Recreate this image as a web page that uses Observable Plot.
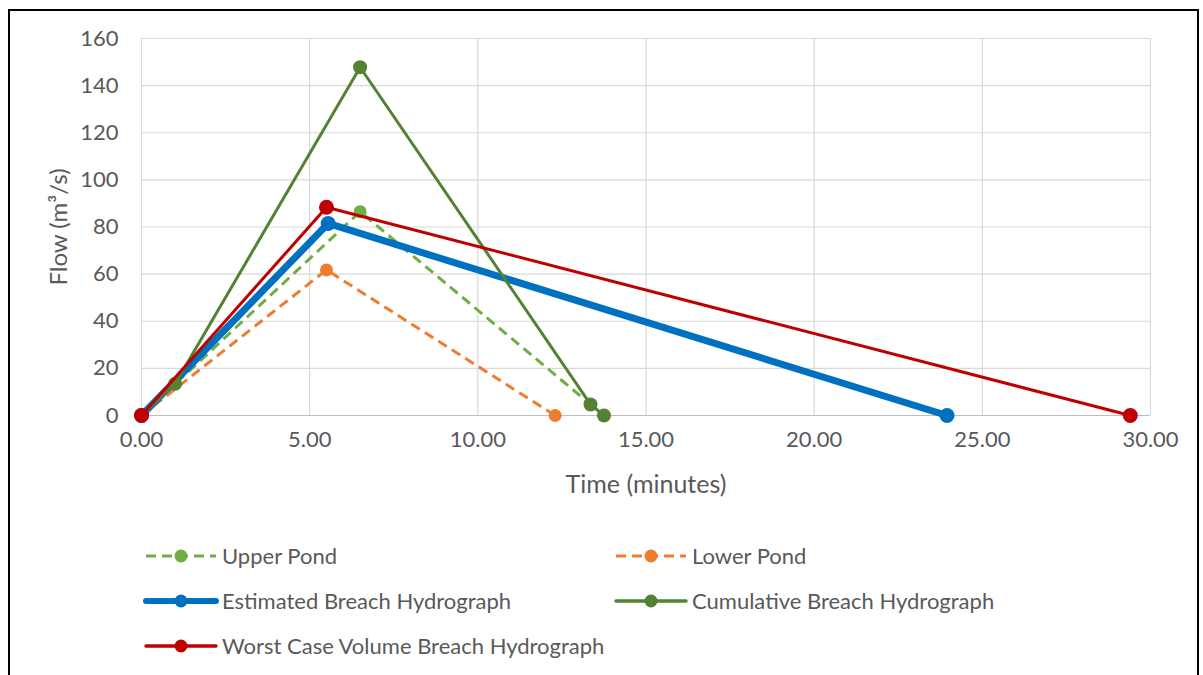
<!DOCTYPE html>
<html><head><meta charset="utf-8">
<script src="https://cdn.jsdelivr.net/npm/d3@7"></script>
<script src="https://cdn.jsdelivr.net/npm/@observablehq/plot@0.6"></script>
<style>
body{margin:0;background:#fff;font-family:Lato,"Open Sans",sans-serif;}
#wrap{position:relative;width:1203px;height:675px;overflow:hidden;}
#frame{position:absolute;left:8px;top:9px;width:1191px;height:700px;border:2.5px solid #000;box-sizing:border-box;}
#chart{position:absolute;left:0;top:0;}
#legend{position:absolute;left:143px;top:533px;display:grid;grid-template-columns:470px 500px;grid-auto-rows:45px;color:#595959;font-size:22px;}
.item{display:flex;align-items:center;}
.item svg{margin-right:3px;}
g[aria-label="x-axis label"] text{font-size:25px;}
g[aria-label="y-axis label"] text{font-size:24px;}
</style></head>
<body>
<div id="wrap"><div id="frame"></div><div id="chart"></div><div id="legend"></div></div>
<script>
// Data
const xTicks = [0, 5, 10, 15, 20, 25, 30];
const yTicks = [0, 20, 40, 60, 80, 100, 120, 140, 160];
const seriesNames = ["Upper Pond", "Lower Pond", "Estimated Breach Hydrograph", "Cumulative Breach Hydrograph", "Worst Case Volume Breach Hydrograph"];
const upperT = [0, 6.5, 13.35];
const upperQ = [0, 86.5, 4.7];
const lowerT = [0, 5.5, 12.3];
const lowerQ = [0, 61.8, 0];
const estimatedT = [0, 5.55, 23.95];
const estimatedQ = [0, 81.5, 0];
const cumulativeT = [0, 1.0, 6.5, 13.35, 13.75];
const cumulativeQ = [0, 13.5, 147.8, 4.7, 0];
const worstT = [0, 5.5, 29.4];
const worstQ = [0, 88.4, 0];

const seriesData = [[upperT, upperQ], [lowerT, lowerQ], [estimatedT, estimatedQ], [cumulativeT, cumulativeQ], [worstT, worstQ]];
// Styles (separate)
const styles = [
  {color: "#70ad47", width: 3, dash: "10,6", r: 6.5, lw: 3},
  {color: "#ed7d31", width: 3, dash: "10,6", r: 6.5, lw: 3},
  {color: "#0070c0", width: 7, dash: null, r: 7.5, lw: 6},
  {color: "#548235", width: 3, dash: null, r: 7, lw: 3.5},
  {color: "#c00000", width: 3, dash: null, r: 7.5, lw: 3.5}
];

const marks = [
  Plot.gridX(xTicks, {stroke: "#d9d9d9", strokeOpacity: 1, strokeWidth: 1.2}),
  Plot.gridY(yTicks, {stroke: "#d9d9d9", strokeOpacity: 1, strokeWidth: 1.2}),
  Plot.ruleY([0], {stroke: "#bfbfbf", strokeWidth: 1.2}),
  Plot.axisX(xTicks, {tickSize: 0, tickPadding: 16, tickFormat: d => d.toFixed(2), label: "Time (minutes)", labelAnchor: "center", labelArrow: "none", labelOffset: 77, fontSize: 22}),
  Plot.axisY(yTicks, {tickSize: 0, tickPadding: 23, label: "Flow (m³/s)", labelAnchor: "center", labelArrow: "none", labelOffset: 92, fontSize: 22})
];
seriesData.forEach(([t, q], i) => {
  const rows = t.map((x, j) => ({x, y: q[j]}));
  const s = styles[i];
  marks.push(Plot.line(rows, {x: "x", y: "y", stroke: s.color, strokeWidth: s.width, strokeDasharray: s.dash, strokeLinecap: s.dash ? "butt" : "round"}));
  marks.push(Plot.dot(rows, {x: "x", y: "y", r: s.r, fill: s.color, stroke: "none"}));
});

const chart = Plot.plot({
  width: 1203, height: 510,
  marginLeft: 141, marginRight: 53, marginTop: 38, marginBottom: 95,
  style: {fontFamily: "Lato, 'Open Sans', sans-serif", fontSize: "22px", color: "#595959", background: "transparent"},
  x: {domain: [0, 30]},
  y: {domain: [0, 160]},
  marks
});
document.getElementById("chart").appendChild(chart);

const legend = document.getElementById("legend");
seriesNames.forEach((name, i) => {
  const s = styles[i];
  const div = document.createElement("div");
  div.className = "item";
  const dash = s.dash ? `stroke-dasharray="${s.dash}"` : "";
  div.innerHTML = `<svg width="76" height="16"><line x1="3" y1="8" x2="73" y2="8" stroke="${s.color}" stroke-width="${s.lw}" ${dash} stroke-linecap="${s.dash ? 'butt' : 'round'}"/><circle cx="38" cy="8" r="6.5" fill="${s.color}"/></svg><span>${name}</span>`;
  legend.appendChild(div);
});
</script>
</body></html>
